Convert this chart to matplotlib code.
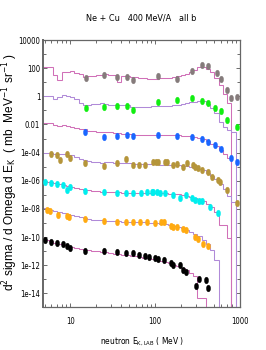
import matplotlib
matplotlib.use("Agg")
import matplotlib.pyplot as plt
from matplotlib.path import Path
from matplotlib.transforms import Affine2D
import numpy as np

plt.rcParams['font.family'] = ['DejaVu Sans']
plt.rcParams['font.stretch'] = 'condensed'

title = "Ne + Cu   400 MeV/A   all b"
xlabel = r"neutron E$_{\rm K,LAB}$ ( MeV )"
ylabel = r"d$^2$ sigma / d Omega d E$_{\rm K}$  ( mb  MeV$^{-1}$ sr$^{-1}$ )"

xticks = [10, 100, 1000]
xticklabels = ["10", "100", "1000"]
yticks = [1e4, 1e2, 1, 1e-2, 1e-4, 1e-6, 1e-8, 1e-10, 1e-12, 1e-14]
yticklabels = ["10000", "100", "1", "0.01", "1e-04", "1e-06", "1e-08", "1e-10", "1e-12", "1e-14"]

# histogram (model) bin edges, MeV
edges = [4.8, 5.62, 6.31, 7.08, 7.94, 8.91, 10, 11.2, 12.6, 14.1, 15.8, 17.8, 20, 22.4, 25.1,
         28.2, 31.6, 35.5, 39.8, 44.7, 50.1, 56.2, 63.1, 70.8, 79.4, 89.1, 100, 112, 126, 141,
         158, 178, 200, 224, 251, 282, 316, 355, 398, 447, 501, 562, 631, 708, 794, 891, 1000]

# model histograms, log10 of d2sigma (None = zero)
line1_log = [2.1, 2.05, 1.5, 1.15, 1.73, 1.73, 1.78, 1.68, 1.6, 1.37, 1.45, 1.45, 1.5, 1.55, 1.58,
             1.55, 1.5, 1.05, 1.47, 1.47, 1.37, 1.35, 1.33, 1.3, 1.2, 1.2, 1.25, 1.3, 1.3, 1.32,
             1.4, 1.45, 1.52, 1.6, 1.75, 1.9, 2.05, 2.1, 1.95, 1.7, 1.3, 0.8, 0.2, -0.5, None, None]
line2_log = [0.05, 0.0, -0.2, -0.05, 0.08, 0.0, -0.05, -0.17, -0.45, -0.58, -0.58, -0.55, -0.55,
             -0.5, -0.52, -0.6, -0.6, -0.62, -0.62, -0.65, -0.75, -0.78, -0.78, -0.73, -0.73,
             -0.72, -0.72, -0.7, -0.7, -0.68, -0.62, -0.58, -0.53, -0.5, -0.42, -0.38, -0.36,
             -0.33, -0.55, -0.8, -1.2, -1.8, -2.2, -2.4, -2.5, None]
line3_log = [-1.89, -1.92, -2.05, -2.12, -2.05, -2.1, -2.17, -2.25, -2.3, -2.35, -2.45, -2.48,
             -2.5, -2.5, -2.52, -2.55, -2.58, -2.62, -2.65, -2.68, -2.7, -2.72, -2.75, -2.76,
             -2.78, -2.78, -2.76, -2.75, -2.75, -2.75, -2.76, -2.78, -2.8, -2.82, -2.85, -2.9,
             -2.95, -3.05, -3.15, -3.35, -3.55, -3.8, -4.1, -4.4, None, None]
line4_log = [-4.0, -4.05, -4.1, -4.1, -4.12, -4.15, -4.2, -4.3, -4.45, -4.52, -4.58, -4.65, -4.68,
             -4.7, -4.68, -4.68, -4.7, -4.7, -4.72, -4.74, -4.75, -4.77, -4.79, -4.8, -4.82,
             -4.83, -4.84, -4.85, -4.86, -4.87, -4.88, -4.9, -4.93, -4.97, -5.02, -5.08, -5.15,
             -5.25, -5.45, -5.65, -5.9, -6.2, -6.6, -7.1, -7.5, None]
line5_log = [-6.05, -6.1, -6.15, -6.2, -6.3, -6.38, -6.45, -6.52, -6.58, -6.63, -6.68, -6.72,
             -6.74, -6.76, -6.78, -6.8, -6.8, -6.82, -6.83, -6.84, -6.84, -6.85, -6.85, -6.85,
             -6.84, -6.84, -6.85, -6.86, -6.88, -6.9, -6.93, -6.96, -7.0, -7.05, -7.12, -7.2,
             -7.3, -7.45, -7.65, -7.85, -8.2, -9.13, -9.13, -10.07, None, None]
line6_log = [-7.95, -8.05, -8.15, -8.2, -8.3, -8.38, -8.45, -8.5, -8.58, -8.65, -8.7, -8.75,
             -8.78, -8.8, -8.82, -8.85, -8.87, -8.88, -8.9, -8.9, -8.92, -8.93, -8.94, -8.95,
             -8.97, -9.0, -9.02, -9.05, -9.1, -9.15, -9.22, -9.3, -9.38, -9.48, -9.6, -9.75,
             -9.95, -10.2, -10.5, -10.9, -11.6, None, None, None, None, None]
line7_log = [-10.2, -10.3, -10.38, -10.45, -10.55, -10.62, -10.7, -10.78, -10.83, -10.88, -10.92,
             -10.96, -11.0, -11.04, -11.08, -11.12, -11.16, -11.2, -11.24, -11.28, -11.32, -11.36,
             -11.4, -11.45, -11.5, -11.56, -11.62, -11.7, -11.78, -11.86, -11.95, -12.05, -12.18,
             -12.32, -12.55, -12.75, -14.3, -14.3, None, None, None, None, None, None, None, None]

# measured points: energy (MeV) and log10 of d2sigma
e1 = [15.4, 25, 36, 47, 55, 108, 180, 275, 357, 425, 540, 600, 705, 780, 910]
d1_log = [1.30, 1.48, 1.37, 1.37, 1.16, 1.44, 1.23, 1.80, 2.26, 2.12, 1.66, 1.2, 0.45, -0.12, -0.05]
e2 = [15.4, 25, 36, 47, 55, 108, 180, 275, 357, 425, 510, 600, 705, 910]
d2_log = [-0.83, -0.76, -0.68, -0.68, -0.97, -0.43, -0.26, -0.12, -0.36, -0.5, -0.8, -1.07, -1.71, -2.21]
e3 = [15, 25, 36, 47, 55, 108, 180, 275, 357, 425, 510, 600, 780, 910]
d3_log = [-2.51, -2.86, -2.79, -2.74, -2.81, -2.74, -2.81, -2.86, -3.03, -3.22, -3.45, -3.74, -4.37, -4.66]
e4 = [6, 7, 7.6, 9.1, 10, 15, 25, 36, 46, 55, 65, 76, 95, 103, 108, 131, 137, 164, 180, 215,
      236, 278, 295, 324, 355, 424, 464, 556, 582, 709, 912]
d4_log = [-4.09, -4.16, -4.52, -4.06, -4.40, -4.75, -4.94, -4.71, -4.47, -4.87, -4.87, -4.87,
          -4.66, -4.66, -4.64, -4.64, -4.68, -4.85, -4.82, -5.03, -4.75, -4.87, -5.03, -5.10,
          -5.23, -5.39, -5.70, -5.94, -6.10, -6.65, -7.55]
e5 = [5.0, 6, 7, 8.3, 9.1, 10, 15, 25, 36, 46, 55, 68, 80, 92, 95, 105, 114, 131, 164, 197,
      232, 270, 295, 332, 355, 444, 556]
d5_log = [-6.06, -6.14, -6.2, -6.32, -6.65, -6.45, -6.72, -6.8, -6.86, -6.88, -6.88, -6.85,
          -6.82, -6.82, -6.81, -6.81, -6.88, -6.88, -7.0, -7.23, -7.0, -7.23, -7.36, -7.41,
          -7.41, -7.87, -8.28]
e6 = [5.3, 5.8, 7.3, 9.1, 9.8, 15, 25, 36, 46, 55, 67, 80, 100, 119, 127, 153, 164, 180, 215,
      232, 295, 324, 362, 424]
d6_log = [-8.07, -8.12, -8.42, -8.49, -8.54, -8.73, -8.83, -8.90, -8.90, -8.90, -8.94, -8.94,
          -9.01, -8.94, -8.90, -9.18, -9.29, -9.29, -9.41, -9.48, -9.96, -10.12, -10.50, -10.60]
e7 = [5.0, 5.9, 7.0, 8.3, 9.1, 9.9, 15, 25, 36, 46, 55, 65, 77, 85, 100, 109, 127, 153, 164,
      197, 215, 232, 302, 330, 395, 425]
d7_log = [-10.19, -10.31, -10.41, -10.51, -10.62, -10.76, -10.95, -11.0, -11.03, -11.1, -11.15,
          -11.26, -11.37, -11.44, -11.47, -11.56, -11.6, -11.85, -11.97, -12.0, -12.32, -12.5,
          -13.44, -12.96, -13.07, -13.60]

point_colors = ['#857b7b', '#11ee11', '#1a66ff', '#b5953a', '#00eeee', '#ffaa11', '#000000']
line_colors = ['#d070b8', '#b08ad8', '#d070b8', '#b08ad8', '#d070b8', '#b08ad8', '#d070b8']

ZERO = 1e-30

def tolin(arr):
    return np.array([10.0 ** v if v is not None else ZERO for v in arr])

fig = plt.figure(figsize=(2.66, 3.5), dpi=100)
ax = fig.add_axes([43 / 266, 1 - 307 / 350, 197 / 266, 267 / 350])
ax.set_xscale('log')
ax.set_yscale('log')
ax.set_xlim(4.8, 1000)
ax.set_ylim(1.1e-15, 1e4)

ell = Path.unit_circle().transformed(Affine2D().scale(0.62, 1.0))

lines = [line1_log, line2_log, line3_log, line4_log, line5_log, line6_log, line7_log]
es = [e1, e2, e3, e4, e5, e6, e7]
ds = [d1_log, d2_log, d3_log, d4_log, d5_log, d6_log, d7_log]

for lv, lc in zip(lines, line_colors):
    ax.stairs(tolin(lv), edges, baseline=None, color=lc, lw=0.75, zorder=2)
for e, d, pc in zip(es, ds, point_colors):
    ax.plot(e, tolin(d), ls='none', marker=ell, ms=4.8, mfc=pc, mec=pc, mew=0.3, zorder=3)

ax.set_xticks(xticks)
ax.set_xticklabels(xticklabels)
ax.set_yticks(yticks)
ax.set_yticklabels(yticklabels)
ax.yaxis.set_minor_locator(matplotlib.ticker.LogLocator(base=10, numticks=40))
ax.yaxis.set_minor_formatter(matplotlib.ticker.NullFormatter())
ax.xaxis.set_minor_locator(matplotlib.ticker.LogLocator(base=10, subs=np.arange(2, 10), numticks=20))
ax.xaxis.set_minor_formatter(matplotlib.ticker.NullFormatter())

ax.tick_params(which='both', direction='in', top=True, right=True, colors='#555555',
               labelcolor='black', labelsize=5.5)
ax.tick_params(which='major', length=3, width=0.6)
ax.tick_params(which='minor', length=2, width=0.6)
ax.tick_params(axis='x', which='major', pad=7)
ax.tick_params(axis='y', which='major', pad=2)
for lab in ax.get_xticklabels() + ax.get_yticklabels():
    lab.set_fontstretch('condensed')
for s in ax.spines.values():
    s.set_color('#666666')
    s.set_linewidth(0.9)
ax.spines['left'].set_linewidth(1.4)

fig.text(141.5 / 266, 1 - 18 / 350, title, ha='center', va='center', fontsize=6.5,
         fontstretch='condensed')
fig.text(142 / 266, 1 - 342 / 350, xlabel, ha='center', va='center', fontsize=6,
         fontstretch='condensed')
fig.text(10 / 266, 1 - 172 / 350, ylabel, ha='center', va='center', rotation=90, fontsize=8.6,
         family=['Liberation Sans', 'DejaVu Sans'])

fig.savefig('out.png', dpi=100)
